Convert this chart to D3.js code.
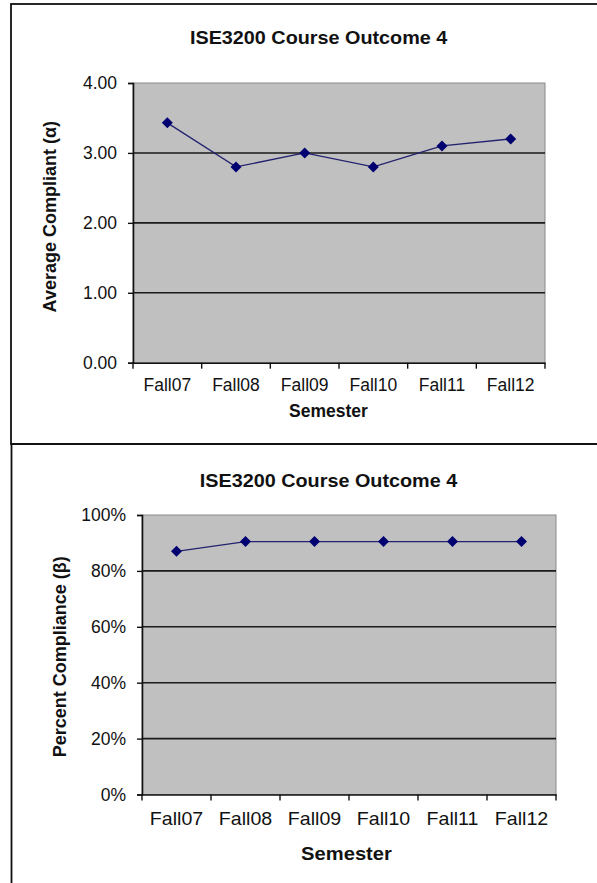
<!doctype html>
<html>
  <head>
    <script src="https://cdn.jsdelivr.net/npm/d3@7"></script>
    <style>
      body { margin: 0; background: #fff; }
      text { font-family: "Liberation Sans", Arial, sans-serif; fill: #111; }
    </style>
  </head>
  <body>
    <svg width="597" height="883"></svg>

    <script type="text/javascript">

        var semesters = ["Fall07", "Fall08", "Fall09", "Fall10", "Fall11", "Fall12"];
        var avgCompliant = [3.43, 2.80, 3.00, 2.80, 3.10, 3.20];
        var pctCompliance = [0.87, 0.905, 0.905, 0.905, 0.905, 0.905];
        var avgTicks = [0, 1, 2, 3, 4];
        var pctTicks = [0, 0.2, 0.4, 0.6, 0.8, 1.0];
        var chartTitle = "ISE3200 Course Outcome 4";
        var xTitle = "Semester";
        var avgTitle = "Average Compliant (\u03b1)";
        var pctTitle = "Percent Compliance (\u03b2)";

        var svg = d3.select("svg");

        // frames round the two pasted charts
        svg.append("rect").attr("x", 11).attr("y", 4).attr("width", 600).attr("height", 440)
            .attr("fill", "none").attr("stroke", "#111").attr("stroke-width", 1.8);
        svg.append("rect").attr("x", 11.5).attr("y", 444).attr("width", 600).attr("height", 450)
            .attr("fill", "none").attr("stroke", "#111").attr("stroke-width", 1.8);

        function drawChart(c) {
            var x = d3.scaleBand().domain(semesters).range([c.left, c.right]);
            var y = d3.scaleLinear().domain([c.ticks[0], c.ticks[c.ticks.length - 1]]).range([c.bottom, c.top]);
            var g = svg.append("g");

            g.append("rect")
                .attr("x", c.left).attr("y", c.top)
                .attr("width", c.right - c.left).attr("height", c.bottom - c.top)
                .attr("fill", "#c0c0c0").attr("stroke", "#8a8a8a").attr("stroke-width", 1);

            // gridlines
            g.selectAll(".grid")
                .data(c.ticks.slice(1, -1))
                .enter().append("line")
                .attr("x1", c.left).attr("x2", c.right)
                .attr("y1", d => y(d)).attr("y2", d => y(d))
                .attr("stroke", "#1a1a1a").attr("stroke-width", 1.6);

            // y axis
            var yAxis = g.append("g")
                .attr("transform", `translate(${c.left},0)`)
                .call(d3.axisLeft(y).tickValues(c.ticks).tickFormat(c.format).tickSize(5).tickPadding(11));
            yAxis.select(".domain").attr("stroke", "#111").attr("stroke-width", 1.6);
            yAxis.selectAll(".tick line").attr("stroke", "#111").attr("stroke-width", 1.4);
            yAxis.selectAll("text").style("font-size", c.yTickSize + "px").attr("fill", "#222");

            // x axis, labels centred in each band, ticks on the band edges
            var xAxis = g.append("g")
                .attr("transform", `translate(0,${c.bottom})`)
                .call(d3.axisBottom(x).tickSize(0).tickPadding(c.xPad));
            xAxis.select(".domain").attr("stroke", "#111").attr("stroke-width", 1.6);
            xAxis.selectAll("text")
                .style("font-size", c.xTickSize + "px").attr("fill", "#222")
                .attr("transform", `scale(${c.xTickScale},1)`);
            xAxis.selectAll(".edge")
                .data(semesters.map(d => x(d)).concat([c.right]))
                .enter().append("line")
                .attr("x1", d => d).attr("x2", d => d)
                .attr("y1", 0).attr("y2", 6)
                .attr("stroke", "#111").attr("stroke-width", 1.4);

            // series
            var pts = semesters.map((s, i) => [x(s) + x.bandwidth() / 2, y(c.values[i])]);
            g.append("path")
                .attr("d", d3.line()(pts))
                .attr("fill", "none").attr("stroke", "#22226e").attr("stroke-width", 1.3);
            g.selectAll(".pt")
                .data(pts)
                .enter().append("path")
                .attr("transform", d => `translate(${d[0]},${d[1]})`)
                .attr("d", "M0,-5.5L5.5,0L0,5.5L-5.5,0Z")
                .attr("fill", "#000070");

            // titles
            g.append("text")
                .attr("transform", `translate(${c.titleX},${c.titleY}) scale(${c.titleScale},1)`)
                .attr("text-anchor", "middle")
                .style("font-size", "18px").style("font-weight", "bold")
                .text(chartTitle);
            g.append("text")
                .attr("transform", `translate(${c.xTitleX},${c.xTitleY}) scale(${c.xTitleScale},1)`)
                .attr("text-anchor", "middle")
                .style("font-size", c.xTitleSize + "px").style("font-weight", "bold")
                .text(xTitle);
            g.append("text")
                .attr("transform", `translate(${c.yTitleX},${c.yTitleY}) rotate(-90)`)
                .attr("text-anchor", "middle")
                .style("font-size", "18px").style("font-weight", "bold")
                .text(c.yTitle);
        }

        drawChart({
            values: avgCompliant, ticks: avgTicks, format: d3.format(".2f"), yTitle: avgTitle,
            left: 133, right: 545, top: 83, bottom: 362.7,
            yTickSize: 17.5, xTickSize: 17.5, xTickScale: 1, xPad: 15.5,
            titleX: 318.6, titleY: 44.3, titleScale: 1.1,
            xTitleX: 328.5, xTitleY: 416.5, xTitleSize: 17.5, xTitleScale: 1,
            yTitleX: 56, yTitleY: 216.7
        });

        drawChart({
            values: pctCompliance, ticks: pctTicks, format: d3.format(".0%"), yTitle: pctTitle,
            left: 142, right: 556, top: 515, bottom: 794.5,
            yTickSize: 17.5, xTickSize: 18, xTickScale: 1.09, xPad: 17.7,
            titleX: 328.5, titleY: 486.7, titleScale: 1.1,
            xTitleX: 346.5, xTitleY: 860, xTitleSize: 18, xTitleScale: 1.12,
            yTitleX: 66, yTitleY: 656.7
        });

    </script>
  </body>
</html>
